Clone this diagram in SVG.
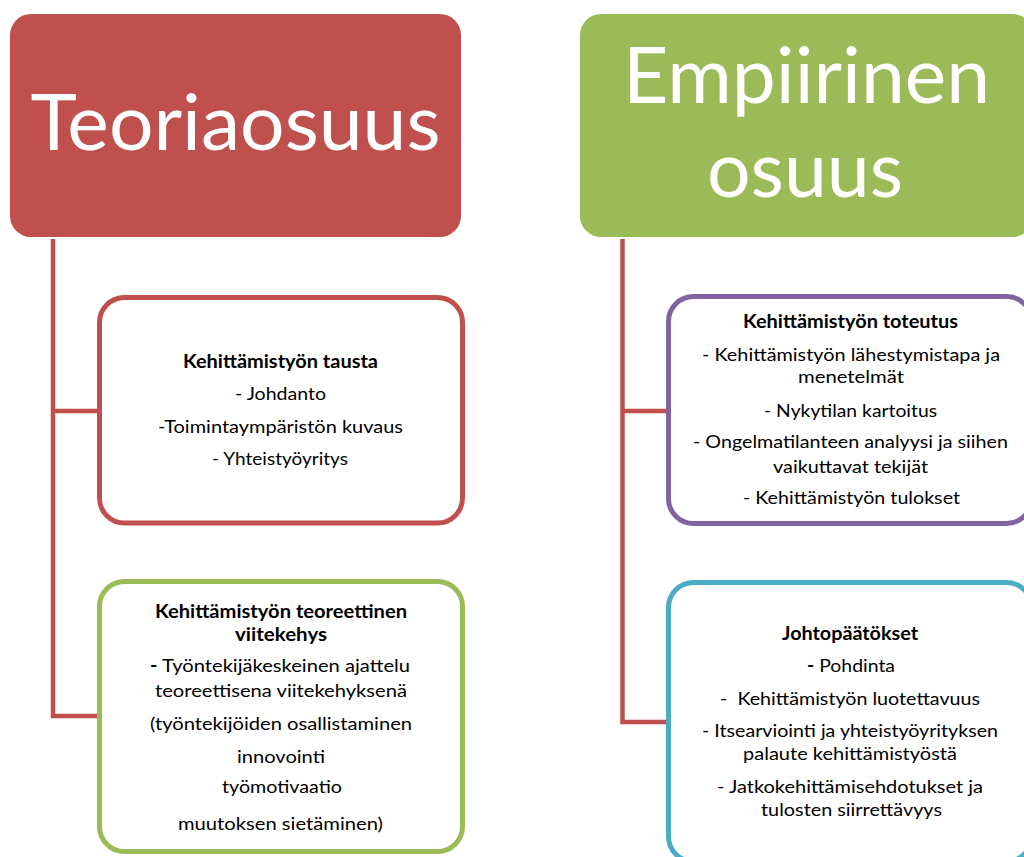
<svg xmlns="http://www.w3.org/2000/svg" width="1024" height="857" viewBox="0 0 1024 857">
<style>
.big{font-family:Lato,"Liberation Sans",sans-serif;font-size:78px;fill:#fff;text-anchor:middle}
.t{font-family:Lato,"Liberation Sans",sans-serif;font-size:18px;fill:#000;text-anchor:middle}
.b{font-weight:bold}
.box{fill:#fff;stroke-width:5}
.conn{fill:none;stroke:#C0504D;stroke-width:4.5}
</style>
<rect width="1024" height="857" fill="#fff"/>
<g id="connectors">
<path class="conn" d="M53 239 V716 H100 M53 411 H100"/>
<path class="conn" d="M622.5 239 V722 H669 M622.5 411 H669"/>
</g>
<g id="teoriaosuus">
<rect x="10" y="14" width="451" height="223" rx="21" fill="#C0504D"/>
<text class="big" x="235.5" y="150" textLength="410" lengthAdjust="spacingAndGlyphs">Teoriaosuus</text>
</g>
<g id="empiirinen">
<rect x="580" y="14" width="453" height="223" rx="21" fill="#9BBB59"/>
<text class="big" x="806.5" y="103" textLength="367" lengthAdjust="spacingAndGlyphs">Empiirinen</text>
<text class="big" x="805" y="197" textLength="196" lengthAdjust="spacingAndGlyphs">osuus</text>
</g>
<g id="tausta">
<rect class="box" x="99.5" y="297.5" width="363" height="225.5" rx="25" stroke="#C0504D"/>
<text class="t b" x="280.5" y="368" textLength="195" lengthAdjust="spacingAndGlyphs">Kehittämistyön tausta</text>
<text class="t" x="280.5" y="400" textLength="91" lengthAdjust="spacingAndGlyphs">- Johdanto</text>
<text class="t" x="280.5" y="433" textLength="245" lengthAdjust="spacingAndGlyphs">-Toimintaympäristön kuvaus</text>
<text class="t" x="280" y="465" textLength="136" lengthAdjust="spacingAndGlyphs">- Yhteistyöyritys</text>
</g>
<g id="viitekehys">
<rect class="box" x="99.5" y="581.5" width="363" height="270" rx="25" stroke="#9BBB59"/>
<text class="t b" x="281" y="618" textLength="252" lengthAdjust="spacingAndGlyphs">Kehittämistyön teoreettinen</text>
<text class="t b" x="281" y="641" textLength="92" lengthAdjust="spacingAndGlyphs">viitekehys</text>
<text class="t" x="280" y="672" textLength="260" lengthAdjust="spacingAndGlyphs"><tspan class="b">-</tspan> Työntekijäkeskeinen ajattelu</text>
<text class="t" x="281" y="697" textLength="252" lengthAdjust="spacingAndGlyphs">teoreettisena viitekehyksenä</text>
<text class="t" x="281" y="730" textLength="262" lengthAdjust="spacingAndGlyphs">(työntekijöiden osallistaminen</text>
<text class="t" x="281" y="763" textLength="88" lengthAdjust="spacingAndGlyphs">innovointi</text>
<text class="t" x="282" y="793" textLength="120" lengthAdjust="spacingAndGlyphs">työmotivaatio</text>
<text class="t" x="280.5" y="830" textLength="205" lengthAdjust="spacingAndGlyphs">muutoksen sietäminen)</text>
</g>
<g id="toteutus">
<rect class="box" x="668.5" y="296.5" width="363" height="227" rx="25" stroke="#8064A2"/>
<text class="t b" x="850.5" y="328" textLength="215" lengthAdjust="spacingAndGlyphs">Kehittämistyön toteutus</text>
<text class="t" x="851" y="361" textLength="298" lengthAdjust="spacingAndGlyphs">- Kehittämistyön lähestymistapa ja</text>
<text class="t" x="851" y="383" textLength="106" lengthAdjust="spacingAndGlyphs">menetelmät</text>
<text class="t" x="850.5" y="417" textLength="173" lengthAdjust="spacingAndGlyphs">- Nykytilan kartoitus</text>
<text class="t" x="850.5" y="448" textLength="315" lengthAdjust="spacingAndGlyphs">- Ongelmatilanteen analyysi ja siihen</text>
<text class="t" x="850.5" y="473" textLength="155" lengthAdjust="spacingAndGlyphs">vaikuttavat tekijät</text>
<text class="t" x="851.5" y="504" textLength="217" lengthAdjust="spacingAndGlyphs">- Kehittämistyön tulokset</text>
</g>
<g id="johtopaatokset">
<rect class="box" x="668.5" y="582.5" width="363" height="279" rx="25" stroke="#4BACC6"/>
<text class="t b" x="850" y="640" textLength="136" lengthAdjust="spacingAndGlyphs">Johtopäätökset</text>
<text class="t" x="851" y="672" textLength="88" lengthAdjust="spacingAndGlyphs"><tspan class="b">-</tspan> Pohdinta</text>
<text class="t" x="850" y="705" textLength="260" lengthAdjust="spacingAndGlyphs" xml:space="preserve">-  Kehittämistyön luotettavuus</text>
<text class="t" x="850" y="737" textLength="296" lengthAdjust="spacingAndGlyphs">- Itsearviointi ja yhteistyöyrityksen</text>
<text class="t" x="850" y="760" textLength="214" lengthAdjust="spacingAndGlyphs">palaute kehittämistyöstä</text>
<text class="t" x="850" y="793" textLength="266" lengthAdjust="spacingAndGlyphs">- Jatkokehittämisehdotukset ja</text>
<text class="t" x="851.5" y="816" textLength="181" lengthAdjust="spacingAndGlyphs">tulosten siirrettävyys</text>
</g>
</svg>
